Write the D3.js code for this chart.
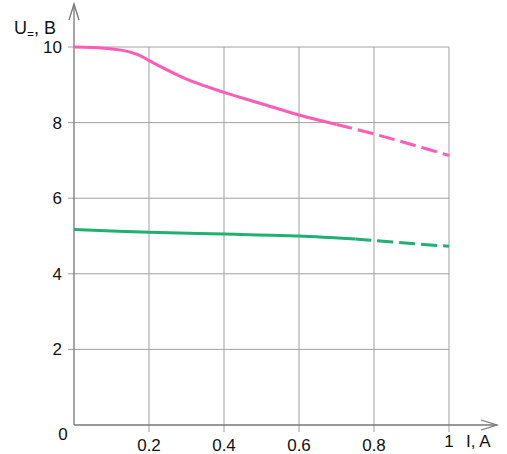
<!DOCTYPE html>
<html>
<head>
<meta charset="utf-8">
<script src="https://cdn.jsdelivr.net/npm/d3@7"></script>
<style>
  body { margin: 0; background: #fff; }
  svg text { font-family: "Liberation Sans", Arial, sans-serif; fill: #111; }
</style>
</head>
<body>
<svg id="chart" width="507" height="454"></svg>
<script>
// values: [I, U]
var xTicks = [0.2, 0.4, 0.6, 0.8];
var yTicks = [2, 4, 6, 8, 10];

var pinkSolid  = [[0, 10], [0.08, 9.97], [0.13, 9.91], [0.17, 9.8], [0.2, 9.64], [0.3, 9.15], [0.4, 8.8], [0.5, 8.5], [0.6, 8.2], [0.7, 7.95]];
var pinkDash   = [[0.7, 7.95], [0.8, 7.7], [0.9, 7.42], [1.0, 7.13]];
var greenSolid = [[0, 5.17], [0.2, 5.1], [0.4, 5.05], [0.6, 5.0], [0.75, 4.92]];
var greenDash  = [[0.75, 4.92], [0.8, 4.88], [0.9, 4.8], [1.0, 4.73]];

var svg = d3.select("#chart");
var x = d3.scaleLinear().domain([0, 1]).range([74, 449]);
var y = d3.scaleLinear().domain([0, 10]).range([425, 47]);

// grid
var grid = svg.append("g").attr("stroke", "#a0a0a0").attr("stroke-width", 1);
grid.selectAll("line.v").data(xTicks.concat([1])).enter().append("line")
  .attr("x1", d => x(d)).attr("x2", d => x(d))
  .attr("y1", y(10)).attr("y2", y(0) + 7);
grid.selectAll("line.h").data(yTicks).enter().append("line")
  .attr("x1", x(0) - 6).attr("x2", x(1))
  .attr("y1", d => y(d)).attr("y2", d => y(d));

// axes with arrows
var ax = svg.append("g").attr("stroke", "#777").attr("stroke-width", 1.3).attr("fill", "none");
ax.append("line").attr("x1", x(0)).attr("x2", 497).attr("y1", y(0)).attr("y2", y(0));
ax.append("line").attr("x1", x(0)).attr("x2", x(0)).attr("y1", y(0)).attr("y2", 4);
ax.append("path").attr("d", "M" + (x(0) - 5) + ",20 L" + x(0) + ",4 L" + (x(0) + 5) + ",20");
ax.append("path").attr("d", "M481," + (y(0) - 5) + " L497," + y(0) + " L481," + (y(0) + 5));

// curves
var line = d3.line().x(d => x(d[0])).y(d => y(d[1])).curve(d3.curveCatmullRom);
function curve(data, color, dash) {
  svg.append("path").datum(data)
    .attr("d", line)
    .attr("fill", "none")
    .attr("stroke", color)
    .attr("stroke-width", 3)
    .attr("stroke-dasharray", dash ? "16,6" : null);
}
curve(pinkSolid, "#ff5cb8", false);
curve(pinkDash, "#ff5cb8", true);
curve(greenSolid, "#1fb072", false);
curve(greenDash, "#1fb072", true);

// labels
svg.selectAll("text.y").data(yTicks).enter().append("text")
  .attr("x", 62).attr("y", d => y(d) + 6)
  .attr("text-anchor", "end").attr("font-size", 17)
  .text(d => d);
svg.selectAll("text.x").data(xTicks).enter().append("text")
  .attr("x", d => x(d)).attr("y", 451)
  .attr("text-anchor", "middle").attr("font-size", 17)
  .text(d => d);
svg.append("text").attr("x", 63).attr("y", 440).attr("text-anchor", "middle").attr("font-size", 17).text("0");
svg.append("text").attr("x", x(1)).attr("y", 447).attr("text-anchor", "middle").attr("font-size", 17).text("1");
svg.append("text").attr("x", 466).attr("y", 447).attr("font-size", 17).text("I, A");

var ul = svg.append("text").attr("x", 14).attr("y", 34).attr("font-size", 18);
ul.append("tspan").text("U");
ul.append("tspan").attr("font-size", 12).attr("dy", 4).text("=");
ul.append("tspan").attr("dy", -4).text(", B");
</script>
</body>
</html>
